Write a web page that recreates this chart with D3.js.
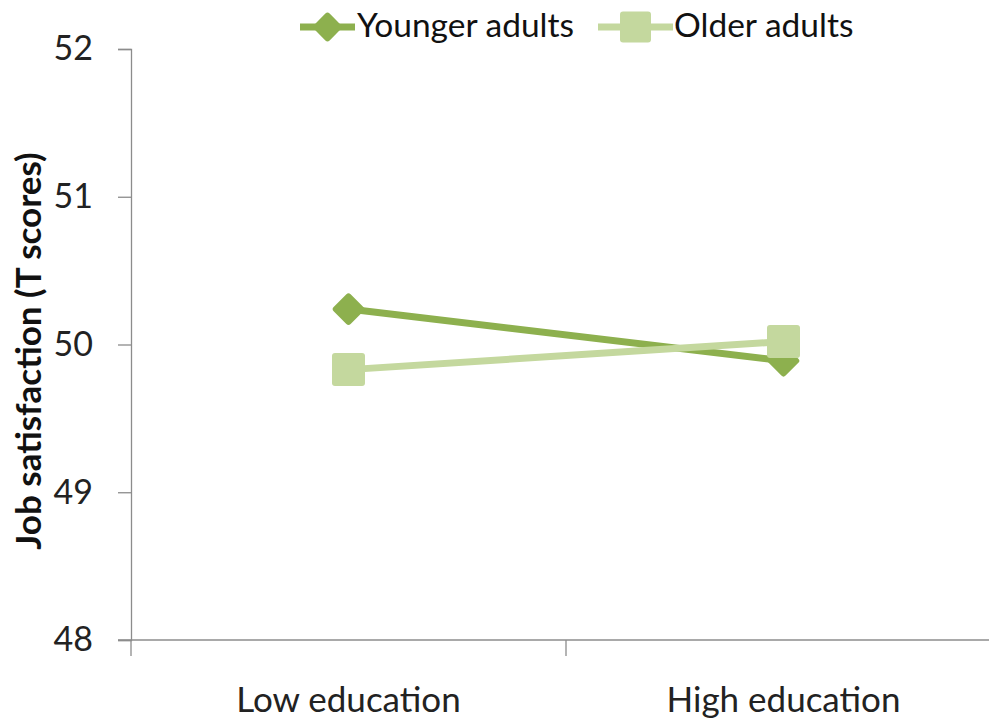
<!DOCTYPE html>
<html>
<head>
<meta charset="utf-8">
<script src="https://cdn.jsdelivr.net/npm/d3@7"></script>
<style>
  html, body { margin: 0; padding: 0; background: #fff; }
  svg { display: block; }
  text { font-family: Lato, "Open Sans", sans-serif; }
</style>
</head>
<body>
<svg id="chart" width="989" height="721"></svg>
<script>
// Job satisfaction by education level, two age groups
const categories = ["Low education", "High education"];
const seriesNames = ["Younger adults", "Older adults"];
const youngerValues = [50.24, 49.89];
const olderValues = [49.83, 50.02];
const yTicks = [48, 49, 50, 51, 52];

const colors = { "Younger adults": "#8db04e", "Older adults": "#c4d89e" };
const series = [
  { name: seriesNames[0], values: youngerValues, shape: "diamond" },
  { name: seriesNames[1], values: olderValues, shape: "square" }
];

const svg = d3.select("#chart");
const plotLeft = 131, plotTop = 49, plotBottom = 640, plotRight = 1001;

const x = d3.scaleBand().domain(categories).range([plotLeft, plotRight]);
const y = d3.scaleLinear().domain([48, 52]).range([plotBottom, plotTop]);

// y axis
const yAxis = svg.append("g")
  .attr("transform", `translate(${plotLeft},0)`)
  .call(d3.axisLeft(y).tickValues(yTicks).tickSize(13).tickPadding(25).tickFormat(d3.format("d")));
yAxis.select(".domain").attr("stroke", "#8c8c8c").attr("stroke-width", 1.3);
yAxis.selectAll(".tick line").attr("stroke", "#8c8c8c").attr("stroke-width", 1.3);
yAxis.selectAll(".tick text").attr("font-size", 34).attr("fill", "#222")
  .attr("font-family", "Lato, 'Open Sans', sans-serif");

// x axis with boundary ticks between categories
const xAxis = svg.append("g").attr("transform", `translate(0,${plotBottom})`);
xAxis.append("line").attr("x1", plotLeft - 13).attr("x2", plotRight).attr("y1", 0).attr("y2", 0)
  .attr("stroke", "#8c8c8c").attr("stroke-width", 1.3);
const bounds = categories.map(c => x(c)).concat([plotRight]);
xAxis.selectAll(".bt").data(bounds).join("line")
  .attr("x1", d => d).attr("x2", d => d).attr("y1", 0).attr("y2", 16)
  .attr("stroke", "#8c8c8c").attr("stroke-width", 1.3);
xAxis.selectAll(".cl").data(categories).join("text")
  .attr("x", d => x(d) + x.bandwidth() / 2).attr("y", 72)
  .attr("text-anchor", "middle").attr("font-size", 35).attr("fill", "#222")
  .text(d => d);

// y axis title
svg.append("text")
  .attr("transform", `translate(41,351) rotate(-90)`)
  .attr("text-anchor", "middle").attr("font-size", 35).attr("font-weight", "bold")
  .attr("fill", "#111").text("Job satisfaction (T scores)");

const cx = d => x(d) + x.bandwidth() / 2;
const line = d3.line().x((v, i) => cx(categories[i])).y(v => y(v));

function drawMarker(g, shape, color, px, py, s) {
  const r = g.append("rect").attr("x", px - s / 2).attr("y", py - s / 2)
    .attr("width", s).attr("height", s).attr("rx", 3).attr("fill", color);
  if (shape === "diamond") r.attr("transform", `rotate(45,${px},${py})`);
}

series.forEach(s => {
  const g = svg.append("g");
  g.append("path").datum(s.values).attr("d", line)
    .attr("fill", "none").attr("stroke", colors[s.name]).attr("stroke-width", 7);
  s.values.forEach((v, i) => {
    drawMarker(g, s.shape, colors[s.name], cx(categories[i]), y(v), s.shape === "diamond" ? 24 : 33);
  });
});

// legend
const legendItems = [
  { name: seriesNames[0], shape: "diamond", x0: 300, x1: 355, tx: 357 },
  { name: seriesNames[1], shape: "square", x0: 598, x1: 673, tx: 674 }
];
const ly = 27;
legendItems.forEach(it => {
  const g = svg.append("g");
  g.append("line").attr("x1", it.x0).attr("x2", it.x1).attr("y1", ly).attr("y2", ly)
    .attr("stroke", colors[it.name]).attr("stroke-width", 7);
  drawMarker(g, it.shape, colors[it.name], (it.x0 + it.x1) / 2, ly, it.shape === "diamond" ? 22 : 31);
  g.append("text").attr("x", it.tx).attr("y", ly + 10).attr("font-size", 33.5).attr("fill", "#111")
    .text(it.name);
});
</script>
</body>
</html>
